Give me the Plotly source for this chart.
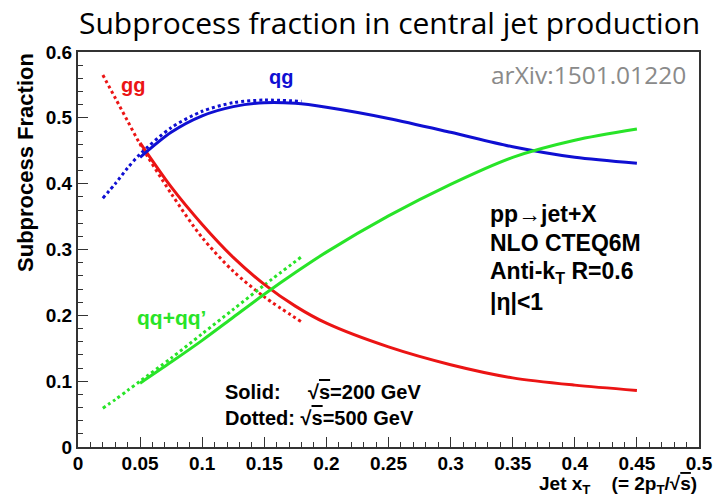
import plotly.graph_objects as go

# ---- data ----
x_solid = [0.05, 0.075, 0.1, 0.125, 0.15, 0.175, 0.2, 0.25, 0.3, 0.35, 0.4, 0.45]
gg_solid = [0.462, 0.395, 0.338, 0.288, 0.247, 0.214, 0.188, 0.152, 0.125, 0.105, 0.094, 0.086]
qg_solid = [0.44, 0.478, 0.503, 0.517, 0.523, 0.522, 0.516, 0.499, 0.478, 0.456, 0.44, 0.431]
qq_solid = [0.097, 0.129, 0.162, 0.197, 0.232, 0.265, 0.296, 0.351, 0.399, 0.44, 0.466, 0.483]

x_dot = [0.02, 0.03, 0.04, 0.05, 0.075, 0.1, 0.125, 0.15, 0.18]
gg_dot = [0.565, 0.53, 0.495, 0.46, 0.385, 0.318, 0.267, 0.228, 0.19]
qg_dot = [0.378, 0.40, 0.424, 0.445, 0.485, 0.51, 0.523, 0.527, 0.525]
qq_dot = [0.059, 0.072, 0.086, 0.1, 0.135, 0.172, 0.209, 0.246, 0.289]

x_ticks = [0, 0.05, 0.1, 0.15, 0.2, 0.25, 0.3, 0.35, 0.4, 0.45, 0.5]
x_ticklabels = ["0", "0.05", "0.1", "0.15", "0.2", "0.25", "0.3", "0.35", "0.4", "0.45", "0.5"]
y_ticks = [0, 0.1, 0.2, 0.3, 0.4, 0.5, 0.6]
y_ticklabels = ["0", "0.1", "0.2", "0.3", "0.4", "0.5", "0.6"]

RED = "rgb(235,20,20)"
BLUE = "rgb(15,15,210)"
GREEN = "rgb(40,228,40)"

fig = go.Figure()
for xs, ys, col, dash in [
    (x_dot, gg_dot, RED, "dot"),
    (x_dot, qg_dot, BLUE, "dot"),
    (x_dot, qq_dot, GREEN, "dot"),
    (x_solid, gg_solid, RED, "solid"),
    (x_solid, qg_solid, BLUE, "solid"),
    (x_solid, qq_solid, GREEN, "solid"),
]:
    fig.add_trace(go.Scatter(x=xs, y=ys, mode="lines",
                             line=dict(color=col, width=3, dash=dash, shape="spline", smoothing=0.8),
                             showlegend=False, hoverinfo="skip"))

bold = dict(family="Liberation Sans, Arial, sans-serif", weight="bold")

fig.update_layout(
    width=725, height=497,
    margin=dict(l=78, r=15, t=52, b=50),
    paper_bgcolor="white", plot_bgcolor="white",
    showlegend=False,
    xaxis=dict(range=[0, 0.5], tickvals=x_ticks, ticktext=x_ticklabels,
               ticks="inside", ticklen=10, tickwidth=1.2, tickcolor="#333",
               minor=dict(dtick=0.01, ticks="inside", ticklen=5, tickcolor="#333", tickwidth=1.2),
               showline=True, linecolor="#333", linewidth=2, mirror=True,
               showgrid=False, zeroline=False, ticklabelstandoff=-2,
               tickfont=dict(size=19, color="black", **bold)),
    yaxis=dict(range=[0, 0.6], tickvals=y_ticks, ticktext=y_ticklabels,
               ticks="inside", ticklen=10, tickwidth=1.2, tickcolor="#333",
               minor=dict(dtick=0.02, ticks="inside", ticklen=5, tickcolor="#333", tickwidth=1.2),
               showline=True, linecolor="#333", linewidth=2, mirror=True,
               showgrid=False, zeroline=False,
               tickfont=dict(size=19, color="black", **bold)),
)


def px(xp, yp):
    return (xp - 78) / 632, (447 - yp) / 395


ann = []


def add(text, xp, yp, xanchor="center", size=19, color="black", family=None, angle=0):
    x, y = px(xp, yp)
    f = dict(size=size, color=color)
    if family:
        f["family"] = family
    else:
        f.update(bold)
    ann.append(dict(text=text, xref="paper", yref="paper", x=x, y=y, xanchor=xanchor,
                    yanchor="middle", showarrow=False, textangle=angle, font=f, borderpad=0))


SQ = "√<span style='text-decoration:overline'>s</span>"
# title and tag
add("Subprocess fraction in central jet production", 395, 22, size=30,
    family="Open Sans, Noto Sans, sans-serif")
add("arXiv:1501.01220", 698, 75, xanchor="right", size=24.5, color="#8a8a8a",
    family="Open Sans, Noto Sans, sans-serif")
# axis titles
add("Subprocess Fraction", 24, 162, size=22, angle=-90)
add("Jet x<sub>T</sub>    (= 2p<sub>T</sub>/" + SQ + ")", 709, 485, xanchor="right", size=19)
# curve labels
add("gg", 134, 85, size=20, color=RED)
add("qg", 285, 77, size=20, color=BLUE)
add("qq+qq’", 173, 317, size=21, color=GREEN)
# info block
info = ["pp→jet+X", "NLO CTEQ6M", "Anti-k<sub>T</sub> R=0.6", "|η|<1"]
ys_info = [214, 243, 272, 302]
for t, yy in zip(info, ys_info):
    add(t, 496, yy, xanchor="left", size=23)
# solid/dotted legend
add("Solid:", 227, 392, xanchor="left", size=20)
add(SQ + "=200 GeV", 311, 392, xanchor="left", size=20)
add("Dotted: " + SQ + "=500 GeV", 227, 418, xanchor="left", size=20)
fig.update_layout(annotations=ann)

fig.write_html("out.html")
